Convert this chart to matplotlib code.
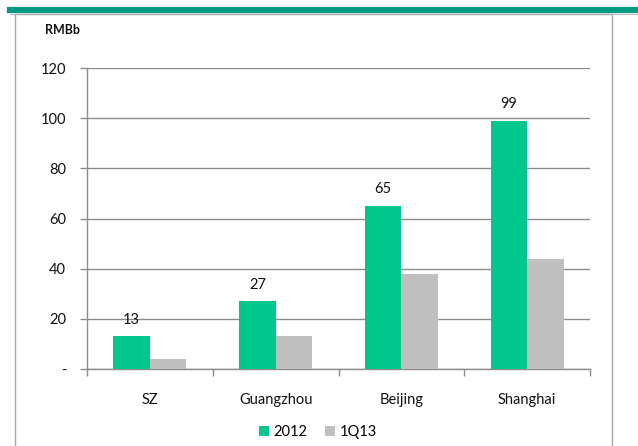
import matplotlib
matplotlib.use("Agg")
import matplotlib.pyplot as plt
from matplotlib.lines import Line2D
from matplotlib.patches import Rectangle
import numpy as np

plt.rcParams['font.family'] = ['Lato', 'DejaVu Sans']

cities = ['SZ', 'Guangzhou', 'Beijing', 'Shanghai']
vals_2012 = [13, 27, 65, 99]
vals_1q13 = [3.8, 13.3, 37.7, 43.9]
yticks = [0, 20, 40, 60, 80, 100, 120]
ytick_labels = ['-', '20', '40', '60', '80', '100', '120']

green = '#00c78c'
grey = '#bfbfbf'
teal = '#009a84'
axis_grey = '#8c8c8c'
fs = 10.5

fig = plt.figure(figsize=(6.38, 4.46), dpi=100)

# header rule and outer frame
fig.add_artist(Line2D([10 / 638, 1], [1 - 10 / 446] * 2, color=teal, lw=4.5))
fig.add_artist(Line2D([10 / 638, 1], [1 - 13.5 / 446] * 2, color='#b0b0b0', lw=0.6))
fig.add_artist(Rectangle((14.5 / 638, -0.05), (612 - 14.5) / 638, 1.05 - 14.5 / 446,
                         fill=False, edgecolor='#a6a6a6', lw=1.0))

ax = fig.add_axes([87 / 638, 1 - 369 / 446, 503 / 638, 301 / 446])

x = np.arange(len(cities))
w = 0.29
b1 = ax.bar(x - w / 2, vals_2012, w, color=green, label='2012', zorder=3)
b2 = ax.bar(x + w / 2, vals_1q13, w, color=grey, label='1Q13', zorder=3)

for rect, v in zip(b1, vals_2012):
    ax.annotate(f'{v}', (rect.get_x() + rect.get_width() / 2, v),
                xytext=(0, 7), textcoords='offset points',
                ha='center', va='bottom', fontsize=fs, color='#111111')

ax.set_xlim(-0.5, len(cities) - 0.5)
ax.set_ylim(0, 120)
ax.set_yticks(yticks)
ax.set_yticklabels(ytick_labels)
ax.set_xticks(x)
ax.set_xticklabels(cities)
ax.set_xticks(np.arange(len(cities) + 1) - 0.5, minor=True)
ax.tick_params(axis='x', which='major', length=0, pad=17, labelsize=fs, colors='#111111')
ax.tick_params(axis='x', which='minor', length=5, color=axis_grey, width=1)
ax.tick_params(axis='y', length=5, color=axis_grey, width=1, pad=10,
               labelsize=fs, labelcolor='#111111')

ax.yaxis.grid(True, color=axis_grey, lw=1, zorder=0)
for s in ['top', 'right']:
    ax.spines[s].set_visible(False)
for s in ['left', 'bottom']:
    ax.spines[s].set_color(axis_grey)
    ax.spines[s].set_linewidth(1)

fig.text(45 / 638, 1 - 30 / 446, 'RMBb', fontsize=9, fontweight='bold',
         ha='left', va='center', color='#111111')

fig.legend(handles=[b1, b2], loc='center', bbox_to_anchor=(318 / 638, 1 - 432 / 446),
           ncol=2, frameon=False, fontsize=fs, handlelength=0.7, handleheight=0.7,
           handletextpad=0.3, columnspacing=1.2)

fig.savefig('out.png', dpi=100)
